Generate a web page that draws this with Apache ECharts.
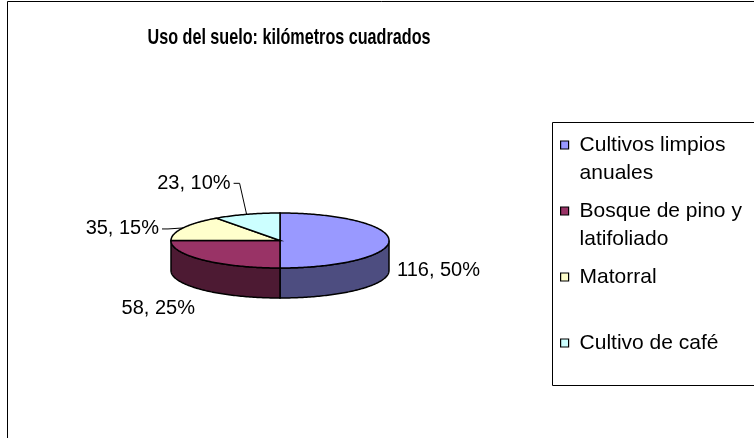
<!DOCTYPE html>
<html>
<head>
<meta charset="utf-8">
<script src="https://cdn.jsdelivr.net/npm/echarts@6/dist/echarts.min.js"></script>
<style>
html, body { margin: 0; padding: 0; background: #fff; }
#chart { width: 754px; height: 438px; }
</style>
</head>
<body>
<div id="chart"></div>
<script>
// datos del grafico
var titulo = 'Uso del suelo: kilómetros cuadrados';
var categorias = ['Cultivos limpios anuales', 'Bosque de pino y latifoliado', 'Matorral', 'Cultivo de café'];
var kilometros = [116, 58, 35, 23];
var leyendaTexto = ['Cultivos limpios\nanuales', 'Bosque de pino y\nlatifoliado', 'Matorral', 'Cultivo de café'];

// estilos
var colorTapa = ['#9999FF', '#993366', '#FFFFCC', '#CCFFFF'];
var colorLado = ['#4D4D80', '#4D1A33', '#808066', '#668080'];
var etiquetaDesp = [[8, 30], [-8, 49], [-24, 1], [-16, -31]];
var conGuia = [false, false, true, true];

// geometria del pastel 3d
var CX = 280, CY = 240.5, RX = 109, RY = 27.5, ALTO = 30;
var FUENTE = '"Liberation Sans", Arial, sans-serif';

var total = kilometros.reduce(function (a, b) { return a + b; }, 0);

function punto(ang, dy) {
  var r = ang * Math.PI / 180;
  return [CX + RX * Math.cos(r), CY - RY * Math.sin(r) + (dy || 0)];
}
// arco en sentido horario de a0 a a1 (a0 > a1)
function arco(a0, a1, dy) {
  var pts = [];
  var n = Math.max(2, Math.ceil(a0 - a1));
  for (var i = 0; i <= n; i++) {
    pts.push(punto(a0 - (a0 - a1) * i / n, dy));
  }
  return pts;
}

function dibujarPorcion(idx) {
  return function (params, api) {
    var antes = 0;
    for (var i = 0; i < idx; i++) antes += kilometros[i];
    var v = api.value(0);
    var a0 = 90 - antes / total * 360;
    var a1 = a0 - v / total * 360;
    var hijos = [];

    // pared frontal visible
    var s = Math.min(a0, 0), e = Math.max(a1, -180);
    if (s > e) {
      var arriba = arco(s, e, 0);
      var abajo = arco(s, e, ALTO).reverse();
      hijos.push({
        type: 'polygon',
        shape: { points: arriba.concat(abajo) },
        style: { fill: colorLado[idx], stroke: '#000', lineWidth: 1.5 }
      });
    }
    // tapa
    hijos.push({
      type: 'polygon',
      shape: { points: [[CX, CY]].concat(arco(a0, a1, 0)) },
      style: { fill: colorTapa[idx], stroke: '#000', lineWidth: 1.5 }
    });

    // etiqueta
    var borde = punto((a0 + a1) / 2, 0);
    var d = etiquetaDesp[idx];
    var tx = borde[0] + d[0], ty = borde[1] + d[1];
    var pct = Math.round(v / total * 100);
    hijos.push({
      type: 'text',
      style: {
        text: v + ', ' + pct + '%',
        x: tx, y: ty,
        align: d[0] >= 0 ? 'left' : 'right',
        verticalAlign: 'middle',
        font: '20px ' + FUENTE,
        fill: '#000'
      }
    });
    if (conGuia[idx]) {
      hijos.push({
        type: 'polyline',
        shape: { points: [[tx + 3, ty], [tx + 9, ty], borde] },
        style: { stroke: '#000', lineWidth: 1, fill: null }
      });
    }
    return { type: 'group', children: hijos };
  };
}

var chart = echarts.init(document.getElementById('chart'));

var series = categorias.map(function (nombre, i) {
  return {
    type: 'custom',
    name: nombre,
    coordinateSystem: 'none',
    silent: true,
    itemStyle: { color: colorTapa[i] },
    renderItem: dibujarPorcion(i),
    data: [[kilometros[i]]]
  };
});

var option = {
  animation: false,
  backgroundColor: '#fff',
  legend: {
    orient: 'vertical',
    left: 560,
    top: 103,
    padding: 0,
    itemGap: -18,
    itemWidth: 8,
    itemHeight: 8,
    icon: 'rect',
    selectedMode: false,
    itemStyle: { borderColor: '#000', borderWidth: 1.2 },
    // cada entrada ocupa tres renglones, con el cuadro en el del medio
    formatter: function (n) {
      var t = leyendaTexto[categorias.indexOf(n)];
      return t.indexOf('\n') >= 0 ? '\n' + t : '\n' + t + '\n';
    },
    textStyle: { fontFamily: FUENTE, fontSize: 21, color: '#000', lineHeight: 28, padding: [0, 0, 0, 6] },
    data: categorias
  },
  graphic: [
    {
      type: 'rect', silent: true,
      shape: { x: 7.5, y: 1.5, width: 900, height: 600 },
      style: { fill: 'none', stroke: '#000', lineWidth: 1 }
    },
    {
      type: 'rect', silent: true,
      shape: { x: 552.5, y: 122.5, width: 300, height: 263 },
      style: { fill: 'none', stroke: '#000', lineWidth: 1 }
    },
    {
      // titulo angosto como en el original
      type: 'text', silent: true,
      x: 289, y: 38, scaleX: 0.735,
      style: {
        text: titulo,
        font: 'bold 22px ' + FUENTE,
        fill: '#000',
        align: 'center',
        verticalAlign: 'middle'
      }
    }
  ],
  series: series
};

chart.setOption(option);
</script>
</body>
</html>
